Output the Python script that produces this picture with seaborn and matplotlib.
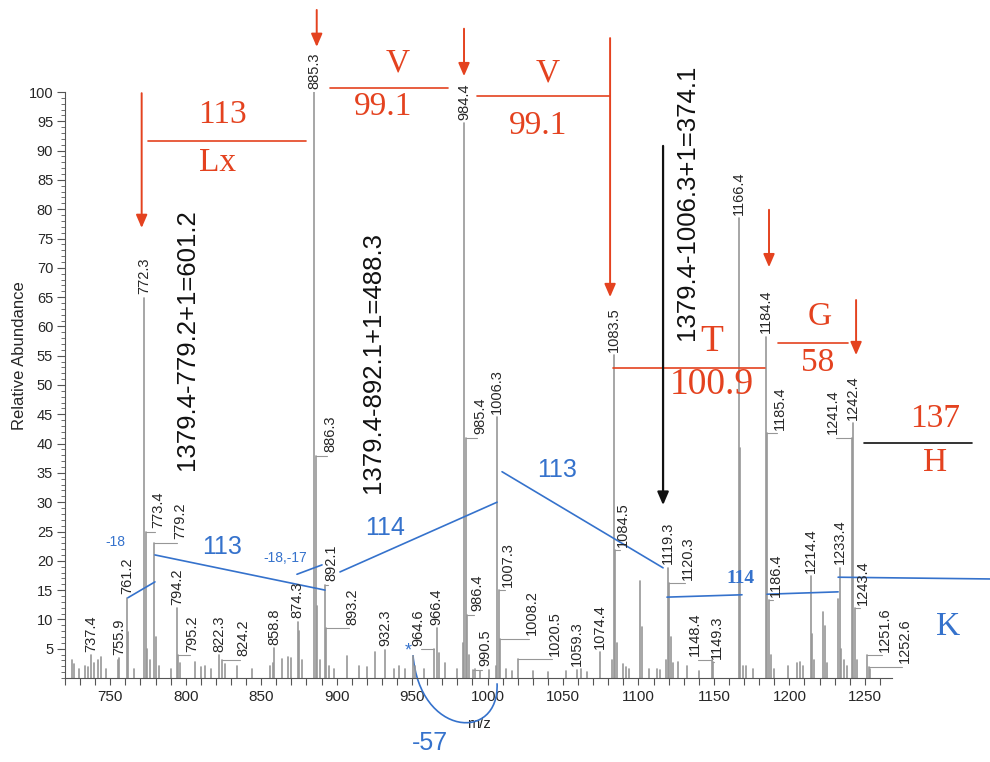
import matplotlib
matplotlib.use("Agg")
import matplotlib.pyplot as plt
from matplotlib.ticker import MultipleLocator, FixedLocator
from matplotlib.path import Path
from matplotlib.patches import PathPatch
import numpy as np
import pandas as pd
import seaborn as sns

# ---------------- spectrum data ----------------
# labelled centroids: m/z as printed on the spectrum, relative abundance (%)
labelled_mz = [737.4, 755.9, 761.2, 772.3, 773.4, 779.2, 794.2, 795.2, 822.3, 824.2,
               858.8, 874.3, 885.3, 886.3, 892.1, 893.2, 932.3, 964.6, 966.4, 984.4,
               985.4, 986.4, 990.5, 1006.3, 1007.3, 1008.2, 1020.5, 1059.3, 1074.4, 1083.5,
               1084.5, 1119.3, 1120.3, 1148.4, 1149.3, 1166.4, 1184.4, 1185.4, 1186.4, 1214.4,
               1233.4, 1241.4, 1242.4, 1243.4, 1251.6, 1252.6]
labelled_int = [3.9, 3.4, 13.7, 64.9, 25.0, 23.1, 11.9, 3.9, 3.9, 3.1,
                5.1, 9.6, 100.0, 37.9, 15.9, 8.5, 4.8, 4.9, 8.5, 94.7,
                41.0, 10.8, 1.4, 44.5, 15.0, 6.7, 3.2, 1.4, 4.4, 55.1,
                21.8, 18.8, 16.2, 3.1, 2.7, 78.5, 58.2, 41.8, 13.3, 17.4,
                18.8, 41.0, 43.5, 11.9, 3.9, 1.9]

# unlabelled centroids
other_mz = [724.6, 726.0, 729.0, 733.0, 735.0, 739.5, 742.0, 744.0, 747.0, 754.8,
            761.9, 766.0, 774.5, 776.0, 780.2, 782.0, 790.0, 796.0, 806.0, 810.0,
            813.0, 817.0, 826.0, 834.0, 844.0, 856.0, 857.8, 864.0, 868.0, 870.0,
            875.3, 877.0, 887.3, 889.0, 895.0, 898.0, 907.0, 915.0, 920.0, 925.6,
            938.0, 941.0, 945.0, 950.6, 952.0, 958.0, 968.0, 972.0, 980.0, 983.4,
            988.0, 992.0, 995.0, 1001.0, 1005.3, 1012.0, 1016.0, 1030.0, 1040.0, 1052.0,
            1062.0, 1066.0, 1082.5, 1085.5, 1090.0, 1092.0, 1094.0, 1101.3, 1102.3, 1107.0,
            1112.0, 1114.0, 1118.3, 1121.3, 1123.0, 1126.0, 1132.0, 1140.0, 1167.4, 1169.0,
            1171.0, 1176.0, 1187.5, 1190.0, 1199.0, 1205.0, 1207.0, 1209.0, 1214.9, 1216.0,
            1222.6, 1223.6, 1225.0, 1232.4, 1234.5, 1236.0, 1238.0, 1244.5, 1253.6]
other_int = [3.0, 2.4, 1.5, 2.0, 1.8, 2.5, 3.0, 3.6, 1.5, 3.0,
             7.8, 1.5, 5.0, 3.0, 7.0, 2.0, 1.5, 2.5, 2.7, 1.8,
             2.0, 1.6, 2.4, 2.0, 1.5, 2.0, 2.5, 3.2, 3.6, 3.4,
             8.0, 3.0, 12.3, 3.0, 2.0, 1.5, 3.7, 2.0, 1.8, 4.4,
             1.5, 2.0, 1.6, 3.7, 2.0, 1.5, 4.2, 2.5, 1.5, 6.0,
             4.0, 1.5, 1.2, 1.3, 2.0, 1.5, 1.2, 1.2, 1.0, 1.2,
             1.5, 1.0, 3.0, 6.0, 2.4, 1.8, 1.5, 16.5, 8.7, 1.5,
             1.6, 1.4, 3.0, 7.0, 2.5, 2.8, 2.0, 1.2, 39.2, 2.0,
             2.0, 1.5, 4.0, 1.5, 2.0, 2.5, 2.8, 2.0, 7.5, 3.0,
             11.2, 8.9, 2.5, 13.5, 5.0, 3.0, 2.0, 3.0, 1.5]

x_ticks = [750, 800, 850, 900, 950, 1000, 1050, 1100, 1150, 1200, 1250]
y_ticks = list(range(5, 101, 5))

# ---------------- layout of the peak labels ----------------
# horizontal displacement (m/z units) of labels that sit beside their peak
label_shift = {
    "773.4": 8.2, "779.2": 17.0, "795.2": 9.3, "824.2": 13.8, "886.3": 9.3,
    "892.1": 4.2, "893.2": 17.0, "964.6": -10.7, "985.4": 9.6, "986.4": 6.6,
    "990.5": 7.8, "1007.3": 6.3, "1008.2": 21.3, "1020.5": 24.2, "1084.5": 5.3,
    "1120.3": 12.6, "1148.4": -10.9, "1149.3": 2.5, "1185.4": 8.4, "1186.4": 4.8,
    "1241.4": -12.5, "1243.4": 5.4, "1251.6": 11.8, "1252.6": 24.1,
}

PEAK = "#979797"
RED = "#e4421f"
BLUE = "#3572cc"
SERIF = ["Liberation Serif", "DejaVu Serif"]

sns.set_style("ticks")
plt.rcParams["font.family"] = ["Liberation Sans", "DejaVu Sans"]
plt.rcParams["axes.unicode_minus"] = False

fig = plt.figure(figsize=(9.9, 7.62), dpi=100)
ax = fig.add_axes([65 / 990, 1 - 678 / 762, 827 / 990, 586 / 762])

# stick spectrum: one vertical segment per centroid
mz_all = labelled_mz + other_mz
int_all = labelled_int + other_int
sticks = pd.DataFrame({
    "mz": np.repeat(mz_all, 2),
    "intensity": np.column_stack([np.zeros(len(int_all)), int_all]).ravel(),
    "peak": np.repeat(np.arange(len(mz_all)), 2),
})
sns.lineplot(data=sticks, x="mz", y="intensity", units="peak", estimator=None,
             sort=False, color=PEAK, lw=1.2, ax=ax, legend=False)

ax.set_xlim(720, 1268)
ax.set_ylim(0, 100)
ax.xaxis.set_major_locator(FixedLocator(x_ticks))
ax.xaxis.set_minor_locator(MultipleLocator(10))
ax.yaxis.set_major_locator(FixedLocator(y_ticks))
ax.yaxis.set_minor_locator(MultipleLocator(1))
ax.tick_params(axis="x", which="both", direction="out", length=5, width=0.8,
               pad=3.5, labelsize=11, color="#555555")
ax.tick_params(axis="y", which="major", direction="out", length=6, width=0.8,
               pad=2.5, labelsize=10.5, color="#555555")
ax.tick_params(axis="y", which="minor", direction="out", length=3, width=0.6,
               color="#555555")
sns.despine(ax=ax)
for side in ("left", "bottom"):
    ax.spines[side].set_color("#555555")
    ax.spines[side].set_linewidth(0.8)

ax.set_xlabel("m/z", fontsize=10.5)
ax.set_ylabel("Relative Abundance", fontsize=12)
ax.yaxis.set_label_coords(-0.046, 0.55)
ax.xaxis.set_label_coords(0.5, -0.066)

# peak labels (rotated), with short leaders for displaced ones
for mz, h in zip(labelled_mz, labelled_int):
    txt = f"{mz:.1f}"
    dx = label_shift.get(txt, 0.0)
    if dx:
        end = mz + dx - np.sign(dx) * 2.0
        ax.plot([mz, end], [h, h], color=PEAK, lw=0.8, clip_on=False)
    ax.annotate(txt, xy=(mz + dx, h), xytext=(0, 2.5), textcoords="offset points",
                rotation=90, ha="center", va="bottom", fontsize=10.5,
                annotation_clip=False)


def arrow(x, y0, y1, color, lw=1.4):
    ax.annotate("", xy=(x, y1), xytext=(x, y0), annotation_clip=False,
                arrowprops=dict(arrowstyle="-|>,head_length=0.65,head_width=0.28",
                                mutation_scale=12, color=color, lw=lw,
                                shrinkA=0, shrinkB=0))


def hline(x0, x1, y, color, lw=1.2):
    ax.plot([x0, x1], [y, y], color=color, lw=lw, clip_on=False)


def serif(x, y, s, size=24, color=RED, weight="normal"):
    ax.text(x, y, s, color=color, fontsize=size, family=SERIF, weight=weight,
            ha="center", va="center", clip_on=False)


# ---- sequence ladder (red) ----
arrow(770.8, 99.8, 76.8, RED)
hline(775.0, 879.7, 91.7, RED)
serif(824.0, 96.1, "113")
serif(821.4, 87.9, "Lx")

arrow(886.8, 114.0, 107.7, RED)
hline(895.6, 973.8, 100.7, RED)
serif(940.7, 104.9, "V")
serif(930.7, 97.4, "99.1")

arrow(984.4, 110.8, 102.7, RED)
hline(993.0, 1081.2, 99.3, RED)
serif(1040.1, 103.2, "V")
serif(1033.4, 94.2, "99.1")

arrow(1081.2, 109.2, 65.0, RED)
hline(1083.2, 1183.9, 52.9, RED)
serif(1148.8, 57.4, "T", size=27)
serif(1148.8, 50.1, "100.9", size=27)

arrow(1186.5, 79.9, 70.1, RED)
hline(1192.5, 1238.9, 57.2, RED)
serif(1220.3, 61.6, "G")
serif(1219.0, 53.8, "58")

arrow(1244.2, 64.5, 55.1, RED)
hline(1249.5, 1321.1, 40.1, "#111111")
serif(1296.5, 44.2, "137")
serif(1296.5, 36.7, "H")

# ---- precursor differences (black) ----
for x, y, s in [(800.8, 57.7, "1379.4-779.2+1=601.2"),
                (924.1, 53.8, "1379.4-892.1+1=488.3"),
                (1132.2, 81.2, "1379.4-1006.3+1=374.1")]:
    ax.text(x, y, s, rotation=90, fontsize=18.5, ha="center", va="center",
            color="#111111", clip_on=False)
arrow(1116.3, 90.8, 29.5, "#111111", lw=1.6)

# ---- complementary series (blue) ----
blue_segments = [
    ((761.7, 13.7), (779.6, 16.4)),
    ((779.6, 21.0), (892.3, 15.0)),
    ((873.7, 17.7), (890.3, 19.3)),
    ((902.2, 18.1), (1006.3, 30.0)),
    ((1009.6, 35.2), (1116.3, 18.8)),
    ((1118.9, 13.8), (1168.6, 14.2)),
    ((1185.2, 14.3), (1232.3, 14.7)),
    ((1232.3, 17.2), (1333.0, 16.9)),
]
for (x0, y0), (x1, y1) in blue_segments:
    ax.plot([x0, x1], [y0, y1], color=BLUE, lw=1.2, clip_on=False)

ax.text(753.1, 23.2, "-18", color=BLUE, fontsize=10, ha="center", va="center")
ax.text(824.0, 22.4, "113", color=BLUE, fontsize=18, ha="center", va="center")
ax.text(865.8, 20.5, "-18,-17", color=BLUE, fontsize=10, ha="center", va="center")
ax.text(932.1, 25.6, "114", color=BLUE, fontsize=18, ha="center", va="center")
ax.text(1046.0, 35.5, "113", color=BLUE, fontsize=18, ha="center", va="center")
serif(1167.3, 16.9, "114", size=14, color=BLUE, weight="bold")
serif(1305.2, 8.7, "K", size=24, color=BLUE)
ax.text(947.3, 4.6, "*", color=BLUE, fontsize=13, ha="center", va="center")
ax.text(961.9, -11.1, "-57", color=BLUE, fontsize=18, ha="center", va="center",
        clip_on=False)

loop = Path([(950.6, 3.9), (955.0, -10.0), (1008.0, -11.0), (1006.3, -0.9)],
            [Path.MOVETO, Path.CURVE4, Path.CURVE4, Path.CURVE4])
ax.add_patch(PathPatch(loop, fill=False, edgecolor=BLUE, lw=1.2, clip_on=False))

fig.savefig("out.png", dpi=100)
